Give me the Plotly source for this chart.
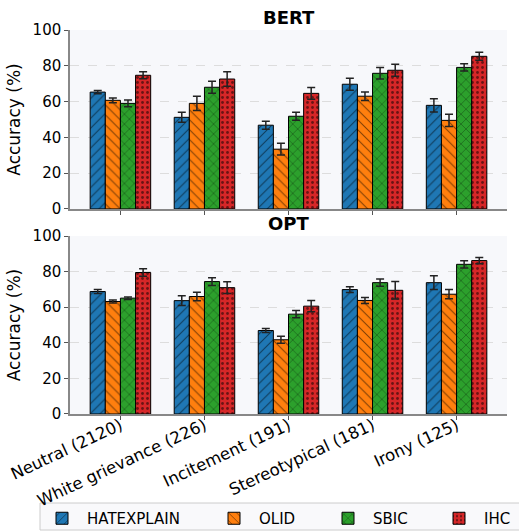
import plotly.graph_objects as go
from plotly.subplots import make_subplots

categories = ["Neutral (2120)", "White grievance (226)", "Incitement (191)",
              "Stereotypical (181)", "Irony (125)"]
datasets = ["HATEXPLAIN", "OLID", "SBIC", "IHC"]

bert_vals = {
    "HATEXPLAIN": [65.3, 51.2, 46.8, 69.7, 57.9],
    "OLID":       [60.7, 59.0, 33.4, 63.0, 49.5],
    "SBIC":       [59.0, 68.0, 51.8, 75.8, 79.1],
    "IHC":        [74.7, 72.6, 64.6, 77.5, 85.3],
}
bert_err = {
    "HATEXPLAIN": [0.9, 2.8, 2.2, 3.4, 3.7],
    "OLID":       [1.3, 4.0, 3.3, 2.4, 3.4],
    "SBIC":       [1.9, 3.3, 2.2, 3.2, 2.0],
    "IHC":        [2.0, 4.0, 3.3, 3.4, 2.2],
}
opt_vals = {
    "HATEXPLAIN": [68.8, 63.7, 46.9, 69.9, 73.8],
    "OLID":       [63.2, 66.0, 41.7, 63.8, 67.3],
    "SBIC":       [65.1, 74.4, 56.1, 73.8, 84.1],
    "IHC":        [79.5, 71.0, 60.6, 69.5, 86.2],
}
opt_err = {
    "HATEXPLAIN": [1.1, 2.7, 1.1, 1.6, 3.9],
    "OLID":       [0.9, 2.4, 2.0, 1.7, 2.6],
    "SBIC":       [0.7, 2.2, 2.0, 2.0, 2.0],
    "IHC":        [2.1, 3.3, 3.2, 4.9, 1.8],
}

colors = {"HATEXPLAIN": "#1f77b4", "OLID": "#ff7f0e", "SBIC": "#2ca02c", "IHC": "#d62728"}
patterns = {"HATEXPLAIN": "/", "OLID": "\\", "SBIC": "x", "IHC": "."}
psize = {"HATEXPLAIN": 7, "OLID": 7, "SBIC": 7, "IHC": 5}
psol = {"HATEXPLAIN": 0.15, "OLID": 0.15, "SBIC": 0.15, "IHC": 0.25}
legend_ids = {"HATEXPLAIN": "legend", "OLID": "legend2", "SBIC": "legend3", "IHC": "legend4"}
legend_x_px = {"legend": 37, "legend2": 209, "legend3": 323, "legend4": 434}

FONT = "DejaVu Sans"
W, H = 519, 531

fig = make_subplots(rows=2, cols=1, shared_xaxes=False, vertical_spacing=0.07)

for row, (vals, errs) in enumerate([(bert_vals, bert_err), (opt_vals, opt_err)], start=1):
    for d in datasets:
        fig.add_trace(go.Bar(
            x=categories, y=vals[d], name=d, showlegend=(row == 1), legend=legend_ids[d],
            marker=dict(color=colors[d], line=dict(color="black", width=1),
                        pattern=dict(shape=patterns[d], fgcolor="black", bgcolor=colors[d],
                                     size=psize[d], solidity=psol[d], fillmode="overlay")),
            error_y=dict(type="data", array=errs[d], color="#222222", thickness=1.5, width=4),
        ), row=row, col=1)

tick_common = dict(showline=True, linecolor="#888888", linewidth=1.5, ticks="outside",
                   ticklen=4, tickcolor="#555555", automargin=False)

leg_common = dict(orientation="h", xref="container", yref="container",
                  y=(H - 502) / H, xanchor="left", yanchor="top",
                  borderwidth=0, bgcolor="rgba(0,0,0,0)",
                  font=dict(family=FONT, size=15, color="black"), itemwidth=40)

fig.update_layout(
    width=W, height=H,
    margin=dict(l=70, r=12, t=30, b=117, autoexpand=False),
    barmode="group", bargap=0.28, bargroupgap=0,
    paper_bgcolor="white", plot_bgcolor="#f7f8fb",
    font=dict(family=FONT, size=14, color="black"),
    legend=dict(x=legend_x_px["legend"] / W, **leg_common),
    legend2=dict(x=legend_x_px["legend2"] / W, **leg_common),
    legend3=dict(x=legend_x_px["legend3"] / W, **leg_common),
    legend4=dict(x=legend_x_px["legend4"] / W, **leg_common),
)

ytitle = dict(text="Accuracy (%)", font=dict(family=FONT, size=17), standoff=8)
fig.update_layout(
    xaxis=dict(domain=[0, 1], range=[-0.6, 4.6], showticklabels=False, anchor="y", **tick_common),
    yaxis=dict(domain=[0.534, 1.0], range=[0, 100], dtick=20, anchor="x",
               showgrid=True, gridcolor="#dddddd", griddash="dash", gridwidth=1, zeroline=False,
               title=ytitle, tickfont=dict(family=FONT, size=15, color="black"), **tick_common),
    xaxis2=dict(domain=[0, 1], range=[-0.6, 4.6], tickangle=-25, anchor="y2",
                ticklabelstandoff=-10,
                tickfont=dict(family=FONT, size=16.5, color="black"), **tick_common),
    yaxis2=dict(domain=[0.0, 0.4635], range=[0, 100], dtick=20, anchor="x2",
                showgrid=True, gridcolor="#dddddd", griddash="dash", gridwidth=1, zeroline=False,
                title=ytitle, tickfont=dict(family=FONT, size=15, color="black"), **tick_common),
)
fig.update_xaxes(showgrid=False)

# legend frame
px0, px1, py_top, py_bot = 40, 530, 503, 530
fig.add_shape(type="rect", xref="paper", yref="paper", layer="below",
              x0=(px0 - 70) / 437, x1=(px1 - 70) / 437,
              y0=(414 - py_bot) / 384, y1=(414 - py_top) / 384,
              line=dict(color="#cccccc", width=1), fillcolor="#f9f9fb")

for txt, ypos in [("BERT", 1.0), ("OPT", 0.4635)]:
    fig.add_annotation(text="<b>%s</b>" % txt, x=0.5, y=ypos, xref="paper", yref="paper",
                       xanchor="center", yanchor="bottom", showarrow=False, yshift=0,
                       font=dict(family=FONT, size=18, color="black"))

fig.write_html("out.html")
